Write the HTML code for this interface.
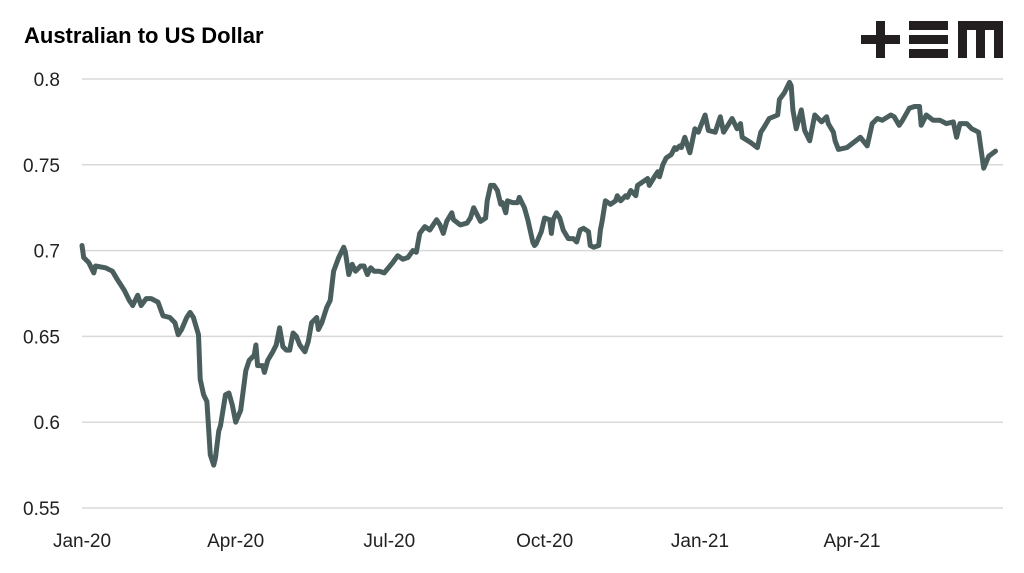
<!DOCTYPE html>
<html><head><meta charset="utf-8"><style>
body{margin:0;background:#fff;}
svg text{font-family:"Liberation Sans",sans-serif;}
</style></head><body>
<svg width="1024" height="568" viewBox="0 0 1024 568" xmlns="http://www.w3.org/2000/svg">
<text x="24" y="43" font-size="22" font-weight="bold" fill="#000">Australian to US Dollar</text>
<g fill="#231f20">
<rect x="861" y="35" width="39" height="9"/><rect x="876" y="21" width="9" height="37"/>
<rect x="909" y="21" width="39" height="9"/><rect x="909" y="35" width="39" height="9"/><rect x="909" y="49" width="39" height="9"/>
<rect x="958" y="21" width="45" height="9"/><rect x="958" y="21" width="9" height="37"/><rect x="976" y="21" width="9" height="37"/><rect x="994" y="21" width="9" height="37"/>
</g>
<g id="grid"></g><g id="yt"></g><g id="xt"></g><g id="series"></g>
</svg>
<script>
const yTicks=[0.8,0.75,0.7,0.65,0.6,0.55];
const yTickLabels=["0.8","0.75","0.7","0.65","0.6","0.55"];
const xTickDays=[0,91,182,274,366,456];
const xTickLabels=["Jan-20","Apr-20","Jul-20","Oct-20","Jan-21","Apr-21"];
const days=[0,1,4,7,8,14,18,21,25,28,30,33,35,38,41,45,48,52,55,57,59,62,64,66,69,70,72,74,76,78,79,81,82,85,87,89,91,94,97,99,102,103,104,107,108,110,113,115,117,119,121,123,125,127,129,132,134,136,139,140,142,145,147,149,152,155,156,158,160,162,165,167,169,171,173,176,179,184,187,190,193,196,198,200,203,206,210,212,214,216,219,220,224,228,230,232,234,236,239,240,242,244,246,248,249,251,252,255,258,259,262,264,267,268,269,272,274,277,278,279,281,283,285,288,291,293,295,297,300,301,303,306,307,308,310,313,316,317,319,322,323,325,328,329,332,335,336,339,341,342,344,346,349,351,352,354,355,357,360,363,365,369,371,375,378,380,385,388,390,391,396,400,402,404,407,412,413,416,419,420,421,423,426,428,431,434,438,441,442,445,446,448,453,461,465,468,471,474,479,481,484,486,490,493,496,497,500,504,508,512,516,518,520,524,527,531,534,537,541];
const values=[0.703,0.696,0.693,0.687,0.691,0.690,0.688,0.683,0.677,0.671,0.668,0.674,0.668,0.672,0.672,0.670,0.662,0.661,0.658,0.651,0.654,0.661,0.664,0.661,0.651,0.625,0.616,0.612,0.581,0.575,0.579,0.595,0.598,0.616,0.617,0.610,0.600,0.607,0.630,0.636,0.639,0.645,0.633,0.633,0.629,0.636,0.641,0.645,0.655,0.644,0.642,0.642,0.652,0.650,0.645,0.641,0.647,0.658,0.661,0.654,0.658,0.667,0.671,0.688,0.696,0.702,0.699,0.686,0.692,0.688,0.691,0.691,0.686,0.690,0.688,0.688,0.687,0.693,0.697,0.695,0.696,0.700,0.699,0.710,0.714,0.712,0.718,0.715,0.710,0.717,0.722,0.718,0.715,0.716,0.719,0.725,0.721,0.717,0.719,0.729,0.738,0.738,0.735,0.727,0.728,0.722,0.729,0.728,0.728,0.731,0.725,0.718,0.705,0.703,0.704,0.711,0.719,0.718,0.710,0.718,0.722,0.719,0.712,0.707,0.707,0.705,0.712,0.713,0.711,0.703,0.702,0.703,0.712,0.717,0.729,0.727,0.729,0.732,0.729,0.732,0.731,0.735,0.732,0.738,0.740,0.742,0.738,0.743,0.746,0.743,0.750,0.754,0.756,0.760,0.759,0.761,0.760,0.766,0.757,0.771,0.769,0.779,0.770,0.769,0.778,0.769,0.777,0.771,0.774,0.766,0.763,0.760,0.769,0.772,0.777,0.779,0.788,0.792,0.798,0.796,0.782,0.771,0.782,0.770,0.764,0.779,0.775,0.778,0.774,0.769,0.764,0.759,0.760,0.766,0.761,0.774,0.777,0.776,0.779,0.778,0.773,0.776,0.783,0.784,0.784,0.773,0.779,0.776,0.776,0.774,0.775,0.766,0.774,0.774,0.771,0.769,0.748,0.755,0.758];
const NS="http://www.w3.org/2000/svg";
function xS(d){return 82+d*1.6885;}
function yS(v){return 79+(0.8-v)/0.05*85.8;}
function mk(t,a,p){const e=document.createElementNS(NS,t);for(const k in a)e.setAttribute(k,a[k]);p.appendChild(e);return e;}
const grid=document.getElementById('grid'),yt=document.getElementById('yt'),xt=document.getElementById('xt'),ser=document.getElementById('series');
yTicks.forEach((v,i)=>{
 const l=mk('line',{x1:82,x2:1003,y1:yS(v),y2:yS(v),stroke:'#d9d9d9','stroke-width':1.5},grid);
 
 
 const t=mk('text',{x:60,y:yS(v)+7,'text-anchor':'end','font-size':19,fill:'#222'},yt);
 t.textContent=yTickLabels[i];
 
 
});
xTickDays.forEach((d,i)=>{
 const t=mk('text',{x:xS(d),y:547,'text-anchor':'middle','font-size':19,fill:'#222'},xt);
 t.textContent=xTickLabels[i];
 
 
});
const pts=days.map((d,i)=>xS(d).toFixed(1)+','+yS(values[i]).toFixed(1)).join(' ');
const pl=mk('polyline',{points:pts,fill:'none',stroke:'#4a5e5e','stroke-width':5,'stroke-linejoin':'round','stroke-linecap':'round'},ser);


</script>
</body></html>
